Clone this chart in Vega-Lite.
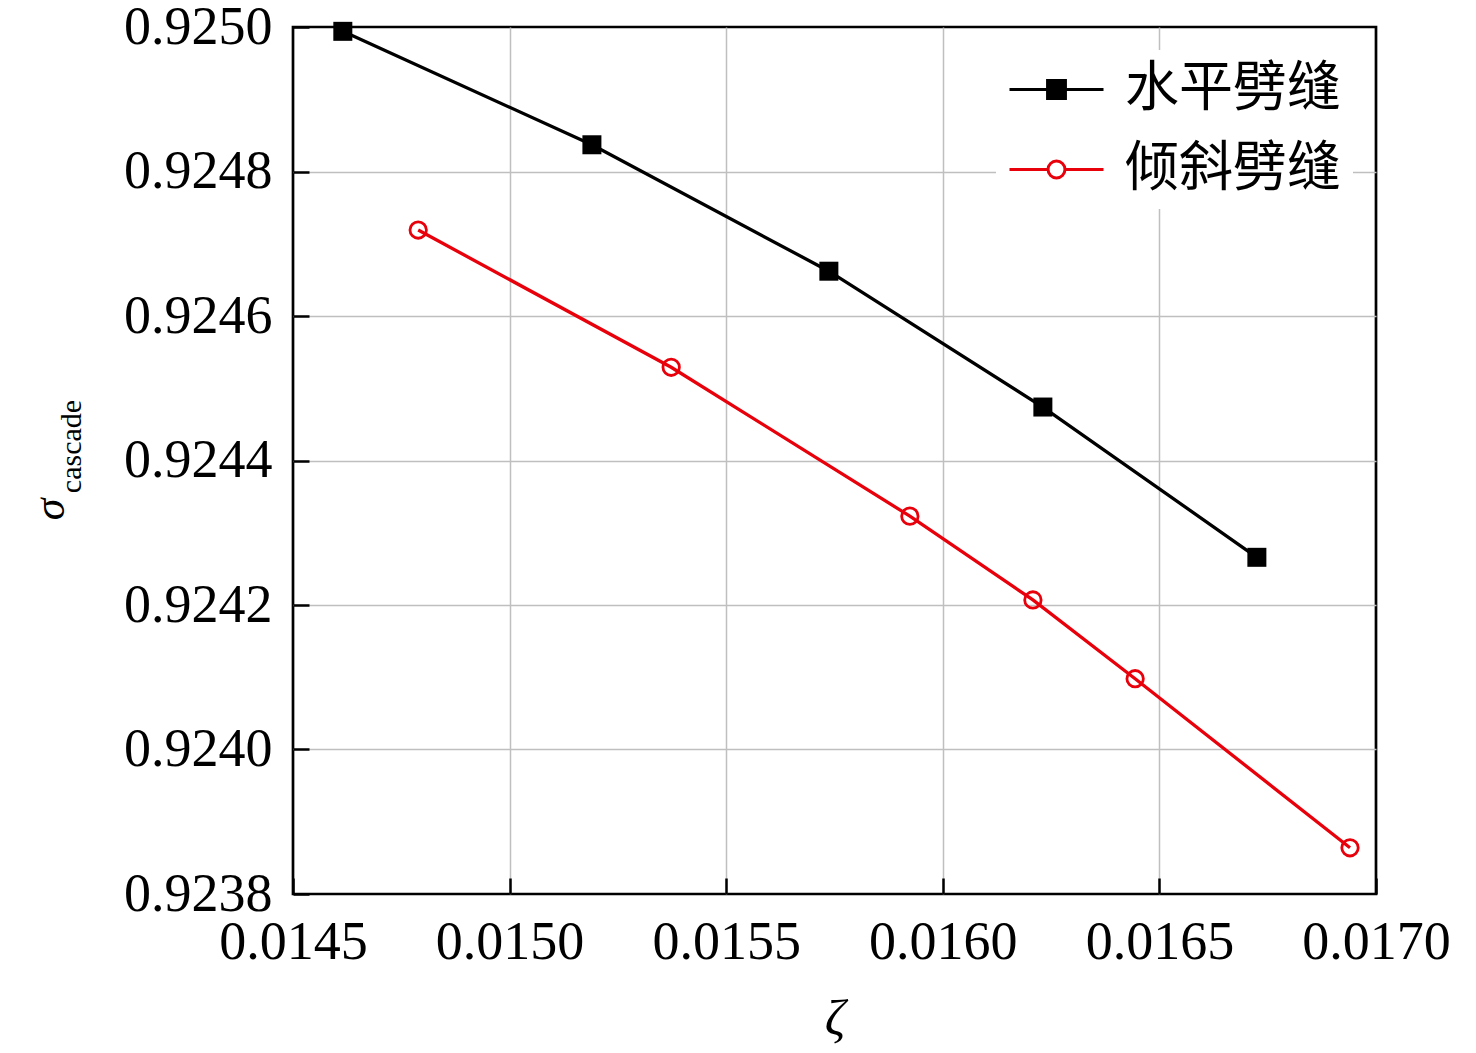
{
  "$schema": "https://vega.github.io/schema/vega-lite/v6.json",
  "width": 1083,
  "height": 867,
  "autosize": "none",
  "padding": {"left": 293, "top": 27, "right": 100, "bottom": 159},
  "background": "white",
  "data": {
    "values": [
      {"series": "水平劈缝", "zeta": 0.014615, "sigma": 0.924994},
      {"series": "水平劈缝", "zeta": 0.01519, "sigma": 0.924837},
      {"series": "水平劈缝", "zeta": 0.015737, "sigma": 0.924662},
      {"series": "水平劈缝", "zeta": 0.016231, "sigma": 0.924474},
      {"series": "水平劈缝", "zeta": 0.016725, "sigma": 0.924266},
      {"series": "倾斜劈缝", "zeta": 0.014789, "sigma": 0.924719},
      {"series": "倾斜劈缝", "zeta": 0.015373, "sigma": 0.924529},
      {"series": "倾斜劈缝", "zeta": 0.015924, "sigma": 0.924323},
      {"series": "倾斜劈缝", "zeta": 0.016208, "sigma": 0.924207},
      {"series": "倾斜劈缝", "zeta": 0.016444, "sigma": 0.924098},
      {"series": "倾斜劈缝", "zeta": 0.01694, "sigma": 0.923864}
    ]
  },
  "encoding": {
    "x": {
      "field": "zeta",
      "type": "quantitative",
      "scale": {"domain": [0.0145, 0.017], "nice": false, "zero": false},
      "axis": {
        "title": "ζ",
        "values": [0.0145, 0.015, 0.0155, 0.016, 0.0165, 0.017],
        "format": ".4f",
        "labelFont": "Liberation Serif",
        "labelFontSize": 54,
        "labelColor": "black",
        "labelPadding": 37,
        "labelFlush": false,
        "labelOverlap": false,
        "tickSize": -16,
        "tickWidth": 2.5,
        "tickColor": "black",
        "domain": false,
        "grid": true,
        "gridColor": {"condition": {"test": "datum.value <= 0.01451 || datum.value >= 0.01699", "value": "transparent"}, "value": "#bfbfbf"},
        "gridWidth": 1.5,
        "titleFont": "Liberation Serif",
        "titleFontStyle": "italic",
        "titleFontWeight": "normal",
        "titleFontSize": 51,
        "titleColor": "black",
        "titleBaseline": "alphabetic",
        "titleY": 140
      }
    }
  },
  "layer": [
    {
      "encoding": {
        "y": {
          "field": "sigma",
          "type": "quantitative",
          "scale": {"domain": [0.9238, 0.925], "nice": false, "zero": false},
          "axis": {
            "title": "σ",
            "values": [0.9238, 0.924, 0.9242, 0.9244, 0.9246, 0.9248, 0.925],
            "format": ".4f",
            "labelFont": "Liberation Serif",
            "labelFontSize": 54,
            "labelColor": "black",
            "labelPadding": 37,
            "labelFlush": false,
            "labelOverlap": false,
            "tickSize": -16,
            "tickWidth": 2.5,
            "tickColor": "black",
            "domain": false,
            "grid": true,
            "gridColor": {"condition": {"test": "datum.value <= 0.92381 || datum.value >= 0.92499", "value": "transparent"}, "value": "#bfbfbf"},
            "gridWidth": 1.5,
            "titleFont": "Liberation Serif",
            "titleFontStyle": "italic",
            "titleFontWeight": "normal",
            "titleFontSize": 44,
            "titleColor": "black",
            "titleAngle": 270,
            "titleAlign": "center",
            "titleBaseline": "alphabetic",
            "titleX": -230,
            "titleY": 482
          }
        }
      },
      "layer": [
        {
          "mark": {"type": "line", "strokeWidth": 3.3},
          "encoding": {
            "color": {
              "field": "series",
              "type": "nominal",
              "sort": ["水平劈缝", "倾斜劈缝"],
              "scale": {"domain": ["水平劈缝", "倾斜劈缝"], "range": ["#000000", "#e8000b"]},
              "legend": {
                "title": null,
                "orient": "top-right",
                "offset": 23,
                "fillColor": "white",
                "padding": 12,
                "symbolSize": 8836,
                "clipHeight": 55,
                "rowPadding": 25,
                "labelOffset": 20,
                "labelFont": "Noto Sans CJK SC",
                "labelFontSize": 54,
                "labelColor": "black",
                "labelLimit": 400,
                "symbolStrokeWidth": 3,
                "encode": {
                  "symbols": {
                    "update": {
                      "shape": {"signal": "datum.value === '水平劈缝' ? 'M-1,0H1M-0.19,-0.19H0.19V0.19H-0.19Z' : 'M-1,0H-0.18M0.18,0H1M0.18,0A0.18,0.18 0 1 1 -0.18,0A0.18,0.18 0 1 1 0.18,0Z'"},
                      "fill": {"signal": "datum.value === '水平劈缝' ? '#000000' : 'transparent'"},
                      "stroke": {"signal": "datum.value === '水平劈缝' ? '#000000' : '#e8000b'"},
                      "strokeWidth": {"value": 3},
                      "opacity": {"value": 1}
                    }
                  }
                }
              }
            }
          }
        },
        {
          "transform": [{"filter": "datum.series === '水平劈缝'"}],
          "mark": {"type": "point", "shape": "square", "filled": true, "color": "#000000", "size": 361, "opacity": 1}
        }
      ]
    },
    {
      "transform": [{"filter": "datum.series === '倾斜劈缝'"}],
      "mark": {"type": "point", "shape": "circle", "filled": false, "color": "#e8000b", "size": 270, "strokeWidth": 2.8, "opacity": 1},
      "encoding": {
        "y": {
          "field": "sigma",
          "type": "quantitative",
          "scale": {"domain": [0.9238, 0.925], "nice": false, "zero": false},
          "axis": {
            "orient": "left",
            "title": "cascade",
            "labels": false,
            "ticks": false,
            "domain": false,
            "grid": false,
            "titleFont": "Liberation Serif",
            "titleFontStyle": "normal",
            "titleFontWeight": "normal",
            "titleFontSize": 30,
            "titleColor": "black",
            "titleAngle": 270,
            "titleAlign": "center",
            "titleBaseline": "alphabetic",
            "titleX": -213,
            "titleY": 419
          }
        }
      }
    }
  ],
  "resolve": {"scale": {"y": "independent"}},
  "config": {
    "font": "Liberation Serif",
    "view": {"stroke": "#000000", "strokeWidth": 2.7}
  }
}
